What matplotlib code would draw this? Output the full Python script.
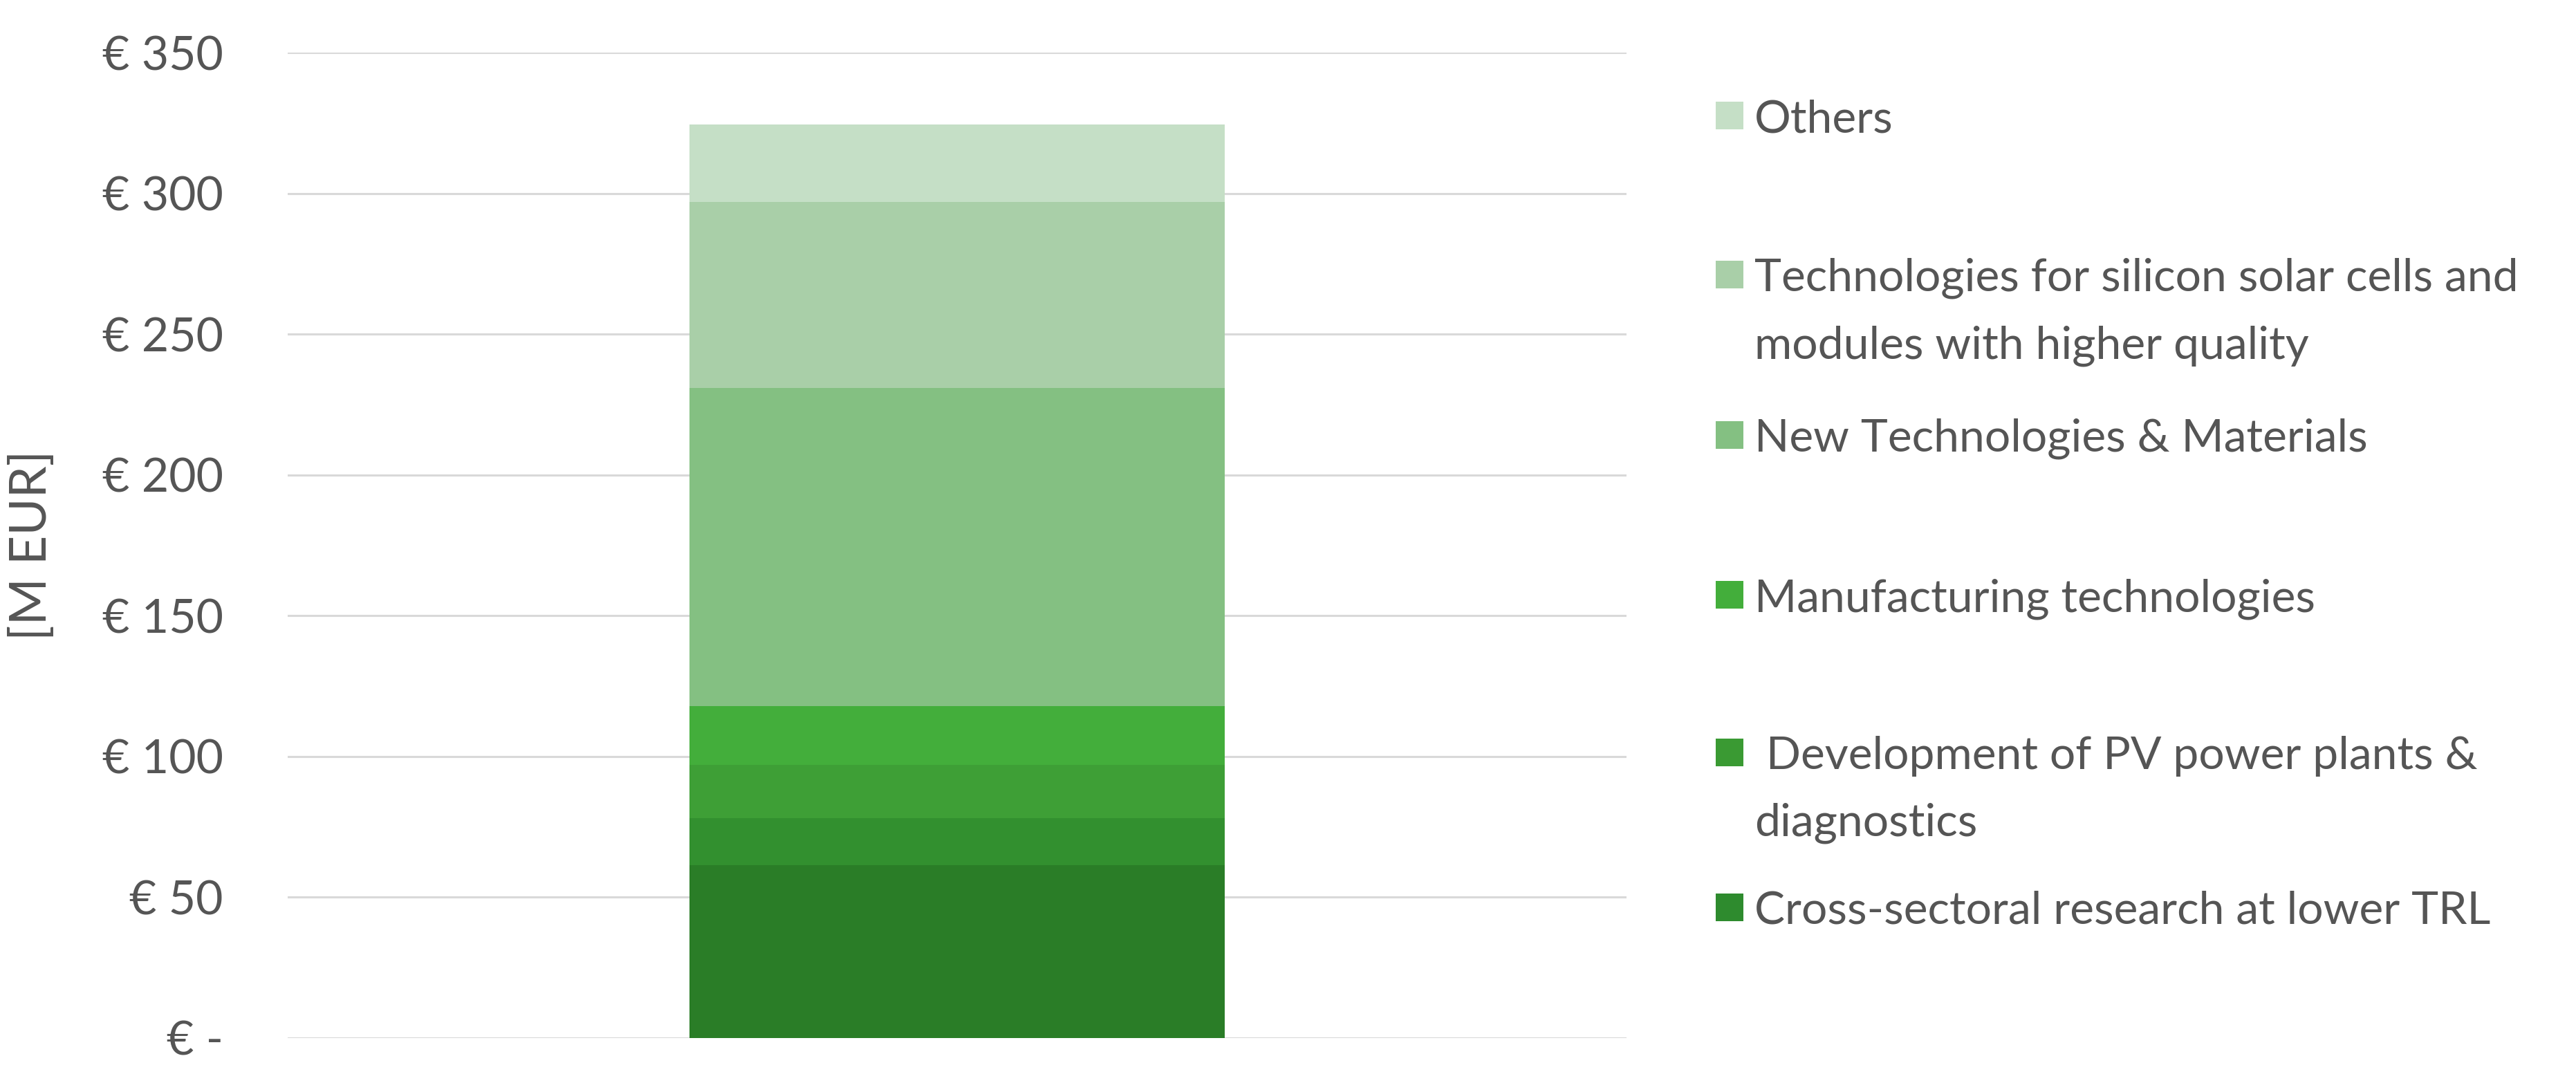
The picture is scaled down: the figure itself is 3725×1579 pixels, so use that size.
import matplotlib
matplotlib.use("Agg")
import matplotlib.pyplot as plt
from matplotlib.patches import Rectangle

plt.rcParams['font.family'] = ['Lato', 'DejaVu Sans']

# ---- data (bottom to top) ----
segment_values = [61.5, 16.5, 19.0, 21.0, 113.0, 66.0, 27.5]
segment_colors = ['#2A7D27', '#32902F', '#3E9F36', '#43AE3B', '#84C082', '#A9CFA8', '#C5DFC6']
legend_labels = [
    "Others",
    "Technologies for silicon solar cells and\nmodules with higher quality",
    "New Technologies & Materials",
    "Manufacturing technologies",
    " Development of PV power plants &\ndiagnostics",
    "Cross-sectoral research at lower TRL",
]
legend_colors = ['#C5DFC6', '#A9CFA8', '#84C082', '#43AE3B', '#3A9A33', '#2E8B2E']
y_ticks = [0, 50, 100, 150, 200, 250, 300, 350]
y_ticklabels = ['€ -', '€ 50', '€ 100', '€ 150', '€ 200', '€ 250', '€ 300', '€ 350']
y_label = '[M EUR]'

W, H = 3725, 1579
fig = plt.figure(figsize=(W / 100, H / 100), dpi=100)
ax = fig.add_axes([416 / W, 1 - 1501 / H, (2352 - 416) / W, (1501 - 76) / H])

txt = '#555555'
bottom = 0.0
for v, c in zip(segment_values, segment_colors):
    ax.bar(0, v, width=0.8, bottom=bottom, color=c, edgecolor='none', zorder=3)
    bottom += v

ax.set_xlim(-1, 1)
ax.set_ylim(0, 350)
ax.set_yticks(y_ticks)
ax.set_yticklabels(y_ticklabels, fontsize=49, color=txt)
ax.set_xticks([])
ax.tick_params(axis='y', length=0, pad=67)
ax.yaxis.grid(True, color='#D9D9D9', linewidth=2.2, zorder=0)
ax.set_axisbelow(True)
for s in ax.spines.values():
    s.set_visible(False)
ax.set_ylabel(y_label, fontsize=53, color=txt)
ax.yaxis.set_label_coords(-0.1736, 0.5)

# ---- legend (manual, Excel-like) ----
first_line_y = [167, 397, 629, 860, 1088, 1312]
line_gap = 97
for lab, col, yc in zip(legend_labels, legend_colors, first_line_y):
    fig.patches.append(Rectangle((2481 / W, 1 - (yc + 20) / H), 40 / W, 40 / H,
                                 transform=fig.transFigure, facecolor=col,
                                 edgecolor='none'))
    for i, line in enumerate(lab.split('\n')):
        fig.text(2537 / W, 1 - (yc + i * line_gap) / H, line, fontsize=47.5,
                 color=txt, va='center_baseline', ha='left')

fig.savefig('out.png', dpi=100, facecolor='white')
